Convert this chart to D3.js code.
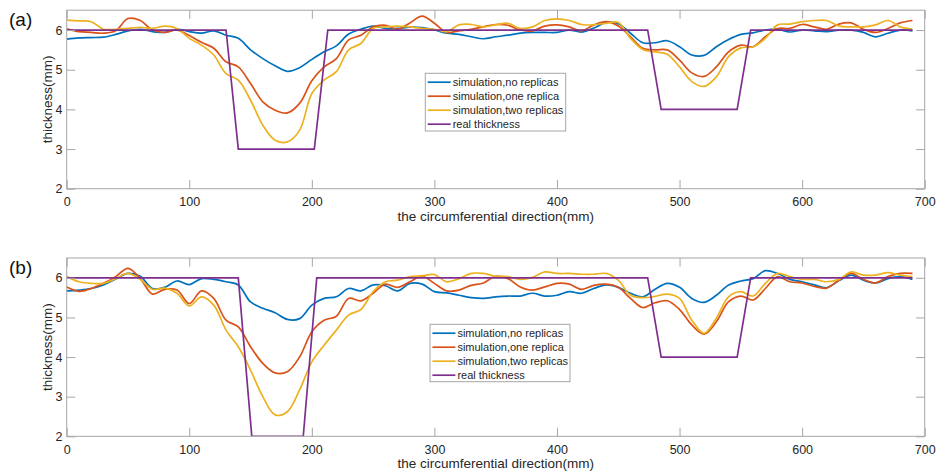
<!DOCTYPE html>
<html>
<head>
<meta charset="utf-8">
<script src="https://cdn.jsdelivr.net/npm/d3@7"></script>
<style>
  html, body { margin: 0; padding: 0; background: #fff; }
  svg { display: block; font-family: Arial, "Liberation Sans", Helvetica, sans-serif; }
</style>
</head>
<body>
<svg id="chart" width="936" height="475"></svg>
<script>
// Sample positions along the circumference (mm)
const positions = [0,10,20,30,40,50,60,70,80,90,100,110,120,130,140,150,160,170,180,190,
  200,210,220,230,240,250,260,270,280,290,300,310,320,330,340,350,360,370,380,390,
  400,410,420,430,440,450,460,470,480,490,500,510,520,530,540,550,560,570,580,590,
  600,610,620,630,640,650,660,670,680,690];

// Panel (a): simulated thickness (mm)
const noReplicasA = [5.77,5.80,5.81,5.82,5.89,5.98,6.02,5.96,5.94,6.02,5.96,5.92,5.98,5.87,5.79,5.50,5.28,5.10,4.96,5.05,
  5.26,5.45,5.60,5.90,6.02,6.10,6.04,6.04,6.07,6.06,6.00,5.92,5.89,5.83,5.78,5.83,5.87,5.92,5.94,5.94,
  5.94,6.00,5.95,6.05,6.19,6.16,5.92,5.68,5.68,5.73,5.58,5.37,5.36,5.58,5.76,5.89,5.93,6.00,6.02,5.95,
  6.00,5.98,5.96,6.00,6.00,5.94,5.83,5.92,6.00,5.98];
const oneReplicaA = [6.03,5.96,5.94,5.92,5.98,6.29,6.24,6.00,5.94,6.00,5.86,5.69,5.54,5.20,5.07,4.65,4.19,3.98,3.91,4.15,
  4.72,5.07,5.28,5.75,5.87,6.08,6.12,6.02,6.18,6.35,6.17,5.94,5.98,6.02,6.08,6.14,6.12,6.00,5.98,6.10,
  6.13,6.08,5.98,6.13,6.21,6.10,5.83,5.54,5.50,5.50,5.24,4.92,4.83,5.07,5.45,5.62,5.58,5.83,6.04,6.04,
  6.14,6.08,6.02,6.15,6.18,6.02,5.94,6.04,6.18,6.24];
const twoReplicasA = [6.25,6.23,6.21,6.02,6.02,6.04,6.07,6.04,6.10,6.04,5.79,5.62,5.37,4.90,4.74,4.23,3.60,3.22,3.18,3.47,
  4.40,4.74,4.95,5.50,5.66,6.04,6.08,6.10,6.08,6.04,6.02,5.96,6.13,6.14,6.08,6.13,6.17,6.04,6.08,6.24,
  6.28,6.24,6.14,6.13,6.17,6.19,5.79,5.51,5.45,5.39,5.07,4.70,4.58,4.82,5.33,5.55,5.58,5.79,6.13,6.15,
  6.21,6.24,6.24,6.10,6.08,6.08,6.13,6.24,6.08,6.02];
const realPosA = [0,130,140,202,213,474,485,547,558,690];
const realA    = [6,6,3,3,6,6,4,4,6,6];

// Panel (b): simulated thickness (mm)
const noReplicasB = [5.67,5.69,5.73,5.82,5.97,6.11,6.04,5.73,5.76,5.92,5.83,5.98,5.96,5.90,5.82,5.39,5.23,5.12,4.95,4.97,
  5.31,5.48,5.52,5.73,5.67,5.82,5.80,5.67,5.86,5.84,5.65,5.62,5.56,5.50,5.48,5.52,5.54,5.54,5.61,5.54,
  5.56,5.65,5.61,5.73,5.82,5.76,5.61,5.52,5.71,5.86,5.76,5.48,5.38,5.56,5.82,5.92,5.98,6.18,6.11,5.96,
  5.90,5.82,5.75,5.93,6.07,5.94,5.87,5.98,6.03,5.96];
const oneReplicaB = [5.77,5.66,5.73,5.86,6.03,6.24,5.98,5.59,5.71,5.69,5.35,5.67,5.48,4.93,4.76,4.26,3.84,3.60,3.63,4.00,
  4.64,4.93,5.03,5.48,5.42,5.61,5.84,5.76,5.90,6.04,5.86,5.67,5.69,5.81,5.87,6.04,5.98,5.77,5.69,5.77,
  5.86,5.84,5.71,5.81,5.84,5.76,5.48,5.25,5.37,5.42,5.20,4.81,4.58,4.89,5.40,5.54,5.44,5.73,6.03,5.90,
  5.87,5.78,5.74,5.94,6.11,5.96,5.87,6.03,6.11,6.11];
const twoReplicasB = [6.03,5.90,5.86,5.86,5.98,6.11,5.96,5.71,5.74,5.61,5.29,5.52,5.31,4.68,4.26,3.67,3.00,2.54,2.62,3.17,
  3.88,4.30,4.68,5.06,5.20,5.65,5.90,5.94,6.03,6.05,6.08,5.90,5.98,6.11,6.11,6.04,6.03,5.96,6.01,6.15,
  6.11,6.11,6.09,6.09,6.11,5.94,5.56,5.50,5.53,5.59,5.48,4.93,4.60,4.98,5.52,5.65,5.54,5.86,6.11,6.03,
  5.96,5.96,5.90,5.96,6.15,6.07,6.07,6.13,6.07,6.03];
const realPosB = [0,140,151,193,204,474,485,547,558,690];
const realB    = [6,6,2,2,6,6,4,4,6,6];

// Axis ticks and labels
const xTicks = [0,100,200,300,400,500,600,700];
const yTicks = [2,3,4,5,6];
const seriesNames = ["simulation,no replicas","simulation,one replica","simulation,two replicas","real thickness"];
const seriesColors = ["#0072BD","#D95319","#EDB120","#7E2F8E"];
const xTitle = "the circumferential direction(mm)";
const yTitle = "thickness(mm)";

const svg = d3.select("#chart");
const axisColor = "#a6a6a6";
const textColor = "#262626";
const tickLen = 8.6;

const panels = [
  { tag: "(a)", top: 10.2, bottom: 188.7, sims: [noReplicasA, oneReplicaA, twoReplicasA],
    realPos: realPosA, real: realA, legend: { x: 425.3, y: 73.3, w: 140.4, h: 57.7 } },
  { tag: "(b)", top: 258.0, bottom: 436.3, sims: [noReplicasB, oneReplicaB, twoReplicasB],
    realPos: realPosB, real: realB, legend: { x: 430, y: 324.3, w: 140, h: 57.4 } }
];

const x = d3.scaleLinear().domain([0, 700]).range([66.7, 924.7]);

panels.forEach(p => {
  const y = d3.scaleLinear().domain([2, 6.5]).range([p.bottom, p.top]);
  const g = svg.append("g");

  const clipId = "clip" + p.tag.replace(/\W/g, "");
  svg.append("clipPath").attr("id", clipId)
    .append("rect").attr("x", x(0)).attr("y", p.top)
    .attr("width", x(700) - x(0)).attr("height", p.bottom - p.top);

  // Data lines
  const lineG = g.append("g").attr("clip-path", `url(#${clipId})`);
  const simLine = d3.line()
    .x((d, i) => x(positions[i]))
    .y(d => y(d))
    .curve(d3.curveCatmullRom.alpha(0.5));
  p.sims.forEach((vals, k) => {
    lineG.append("path").datum(vals)
      .attr("d", simLine)
      .attr("fill", "none")
      .attr("stroke", seriesColors[k])
      .attr("stroke-width", 1.7)
      .attr("stroke-linejoin", "round");
  });
  const realLine = d3.line()
    .x((d, i) => x(p.realPos[i]))
    .y(d => y(d));
  lineG.append("path").datum(p.real)
    .attr("d", realLine)
    .attr("fill", "none")
    .attr("stroke", seriesColors[3])
    .attr("stroke-width", 1.7);

  // Axes: ticks pointing inward on all four sides
  const bottomAxis = d3.axisBottom(x).tickValues(xTicks).tickSizeInner(-tickLen).tickSizeOuter(0).tickFormat(d3.format("d"));
  const topAxis = d3.axisTop(x).tickValues(xTicks).tickSizeInner(-tickLen).tickSizeOuter(0).tickFormat("");
  const leftAxis = d3.axisLeft(y).tickValues(yTicks).tickSizeInner(-tickLen).tickSizeOuter(0).tickFormat(d3.format("d"));
  const rightAxis = d3.axisRight(y).tickValues(yTicks).tickSizeInner(-tickLen).tickSizeOuter(0).tickFormat("");

  const styleAxis = sel => {
    sel.select(".domain").remove();
    sel.selectAll(".tick line").attr("stroke", axisColor).attr("stroke-width", 1);
    sel.selectAll(".tick text").attr("fill", textColor).attr("font-size", 12.5)
      .attr("font-family", "Arial, 'Liberation Sans', sans-serif");
  };
  g.append("g").attr("transform", `translate(0,${p.bottom})`).call(bottomAxis).call(styleAxis)
    .selectAll(".tick text").attr("dy", "0.71em").attr("y", 8.5);
  g.append("g").attr("transform", `translate(0,${p.top})`).call(topAxis).call(styleAxis);
  g.append("g").attr("transform", `translate(${x(0)},0)`).call(leftAxis).call(styleAxis)
    .selectAll(".tick text").attr("x", -4.3);
  g.append("g").attr("transform", `translate(${x(700)},0)`).call(rightAxis).call(styleAxis);

  // Box
  g.append("rect")
    .attr("x", x(0)).attr("y", p.top)
    .attr("width", x(700) - x(0)).attr("height", p.bottom - p.top)
    .attr("fill", "none").attr("stroke", axisColor).attr("stroke-width", 1);

  // Axis titles
  g.append("text")
    .attr("x", (x(0) + x(700)) / 2).attr("y", p.bottom + 31.8)
    .attr("text-anchor", "middle").attr("font-size", 13.5).attr("fill", textColor)
    .text(xTitle);
  g.append("text")
    .attr("transform", `translate(51.5,${(p.top + p.bottom) / 2}) rotate(-90)`)
    .attr("text-anchor", "middle").attr("font-size", 13.5).attr("fill", textColor)
    .text(yTitle);

  // Panel tag
  g.append("text")
    .attr("x", 9).attr("y", p.top + 16)
    .attr("font-size", 19).attr("fill", "#111")
    .text(p.tag);

  // Legend
  const L = p.legend;
  const lg = g.append("g").attr("transform", `translate(${L.x},${L.y})`);
  lg.append("rect").attr("width", L.w).attr("height", L.h)
    .attr("fill", "#fff").attr("stroke", axisColor).attr("stroke-width", 1);
  seriesNames.forEach((name, k) => {
    const cy = 8.9 + k * 14;
    lg.append("line").attr("x1", 2.4).attr("x2", 25.4).attr("y1", cy).attr("y2", cy)
      .attr("stroke", seriesColors[k]).attr("stroke-width", 1.7);
    lg.append("text").attr("x", 27.4).attr("y", cy).attr("dy", "0.35em")
      .attr("font-size", 11).attr("fill", textColor).text(name);
  });
});
</script>
</body>
</html>
